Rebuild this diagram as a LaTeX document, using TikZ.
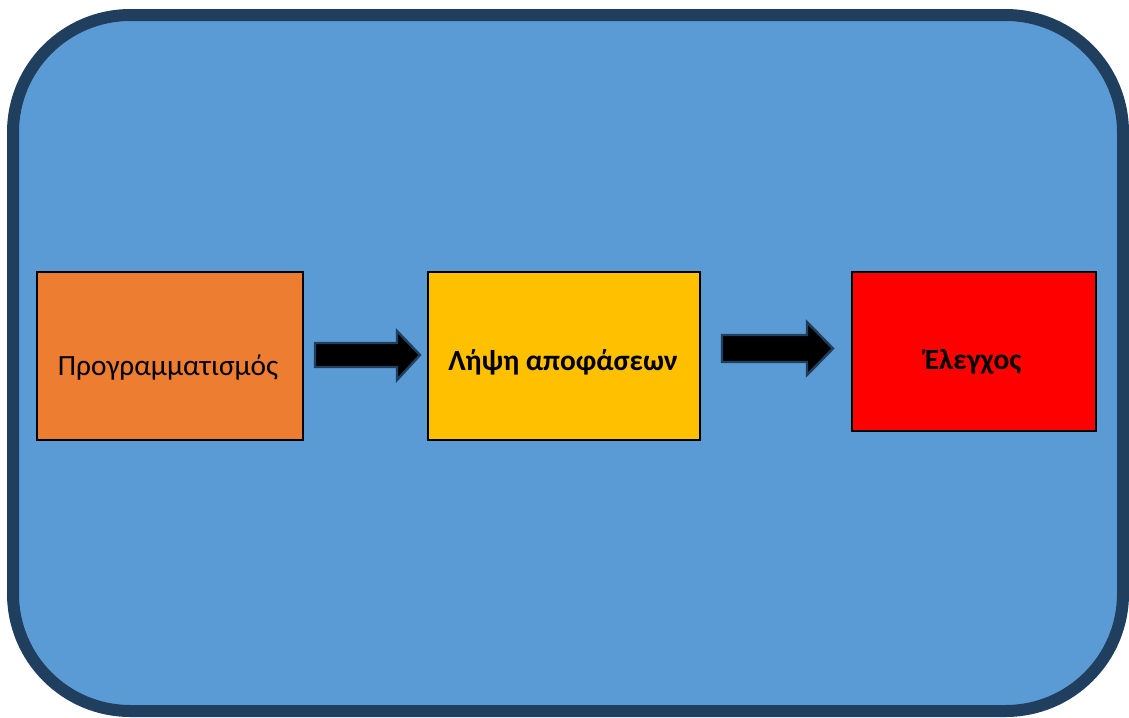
\documentclass[tikz,border=0pt]{standalone}
\usepackage{fontspec}
\setmainfont{Carlito}
\usepackage{tikz}

\definecolor{panelblue}{HTML}{5B9BD5}
\definecolor{paneledge}{HTML}{203F5E}
\definecolor{boxorange}{HTML}{ED7D31}
\definecolor{boxyellow}{HTML}{FFC000}
\definecolor{boxred}{HTML}{FF0000}

\tikzset{
  stagebox/.style={draw=black, line width=1.1pt, inner sep=0pt},
  stagetext/.style={font=\fontsize{22}{26}\selectfont, text=black},
  blockarrow/.style={draw=paneledge, fill=black, line width=1.8pt, line join=miter}
}

\begin{document}
\begin{tikzpicture}[x=0.75pt, y=-0.75pt]
	\useasboundingbox (0, 0) rectangle (1129, 718);

	% background panel
	\draw[fill=panelblue, draw=paneledge, line width=9pt, rounded corners=88pt] (13, 15) rectangle (1123, 711);

	% the three stages
	\node[stagebox, fill=boxorange, minimum width=199.5pt, minimum height=126pt] (plan) at (170, 356) {};
	\node[stagebox, fill=boxyellow, minimum width=204pt, minimum height=126pt] (decide) at (564, 356) {};
	\node[stagebox, fill=boxred, minimum width=183pt, minimum height=119.25pt] (check) at (974, 351.5) {};

	\node[stagetext] (plantext) at (168, 368) {Προγραμματισμός};
	\node[stagetext, font=\fontsize{22}{26}\selectfont\bfseries] (decidetext) at (563, 362) {Λήψη αποφάσεων};
	\node[stagetext, font=\fontsize{22}{26}\selectfont\bfseries] (checktext) at (973, 362) {Έλεγχος};

	% arrows between stages
	\coordinate (a1s) at (315, 355);
	\coordinate (a1e) at (420, 355);
	\coordinate (a2s) at (722, 348.5);
	\coordinate (a2e) at (833, 348.5);

	\draw[blockarrow] (a1s) ++(0, -12) -- ++(82, 0) -- ++(0, -12) -- (a1e) -- ++(-23, 25) -- ++(0, -13) -- ++(-82, 0) -- cycle;
	\draw[blockarrow] (a2s) ++(0, -13.5) -- ++(85, 0) -- ++(0, -13) -- (a2e) -- ++(-26, 26.5) -- ++(0, -13) -- ++(-85, 0) -- cycle;
\end{tikzpicture}
\end{document}
